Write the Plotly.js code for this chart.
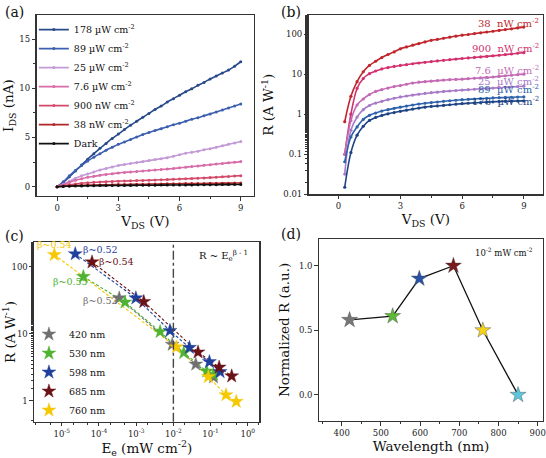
<!DOCTYPE html>
<html><head><meta charset="utf-8">
<script src="https://cdn.plot.ly/plotly-3.0.1.min.js"></script>
<style>html,body{margin:0;padding:0;background:#fff}#chart{width:546px;height:458px}</style>
</head><body><div id="chart"></div><script>
// ---------- Panel (a): I_DS vs V_DS ----------
const vA = [0,0.3,0.6,0.9,1.2,1.5,1.8,2.1,2.4,2.7,3.0,3.3,3.6,3.9,4.2,4.5,4.8,5.1,5.4,5.7,6.0,6.3,6.6,6.9,7.2,7.5,7.8,8.1,8.4,8.7,9.0];
const namesA = ['178 µW cm<sup>-2</sup>','89 µW cm<sup>-2</sup>','25 µW cm<sup>-2</sup>','7.6 µW cm<sup>-2</sup>','900 nW cm<sup>-2</sup>','38 nW cm<sup>-2</sup>','Dark'];
const iA178 = [0,0.45,1.0,1.6,2.2,2.8,3.35,3.9,4.4,4.9,5.35,5.8,6.25,6.65,7.05,7.45,7.85,8.2,8.6,8.95,9.3,9.65,9.95,10.3,10.6,10.95,11.25,11.55,11.85,12.25,12.7];
const iA89  = [0,0.5,1.1,1.65,2.15,2.6,3.0,3.35,3.7,4.0,4.3,4.55,4.8,5.05,5.3,5.5,5.7,5.9,6.1,6.3,6.45,6.65,6.85,7.0,7.2,7.4,7.6,7.8,8.0,8.2,8.4];
const iA25  = [0,0.25,0.55,0.85,1.1,1.3,1.5,1.7,1.85,2.0,2.15,2.25,2.35,2.45,2.55,2.65,2.75,2.85,2.95,3.1,3.25,3.4,3.5,3.6,3.75,3.85,4.0,4.15,4.3,4.45,4.6];
const iA7_6 = [0,0.2,0.45,0.65,0.8,0.95,1.05,1.15,1.25,1.32,1.4,1.45,1.5,1.55,1.6,1.65,1.7,1.75,1.8,1.85,1.92,1.98,2.05,2.1,2.17,2.23,2.3,2.36,2.42,2.48,2.55];
const iA900 = [0,0.1,0.2,0.28,0.35,0.4,0.44,0.48,0.51,0.53,0.56,0.58,0.6,0.62,0.64,0.66,0.68,0.7,0.72,0.75,0.78,0.8,0.83,0.86,0.89,0.92,0.96,1.0,1.04,1.08,1.12];
const iA38  = [0,0.05,0.09,0.12,0.14,0.16,0.17,0.18,0.19,0.2,0.21,0.22,0.23,0.24,0.25,0.26,0.27,0.28,0.29,0.3,0.3,0.31,0.32,0.33,0.33,0.34,0.35,0.36,0.36,0.37,0.38];
const iADark= [0,0.03,0.05,0.07,0.08,0.09,0.1,0.11,0.11,0.12,0.12,0.13,0.13,0.14,0.14,0.15,0.15,0.16,0.16,0.17,0.17,0.18,0.18,0.19,0.19,0.2,0.2,0.21,0.21,0.22,0.22];
const colorsA = ['#284a8a','#3d5fb0','#c39ad6','#d86ba8','#d44a6a','#b0282a','#111111'];

// ---------- Panel (b): R vs V_DS ----------
const vB = [0.3,0.6,0.9,1.2,1.5,1.8,2.1,2.4,2.7,3.0,3.3,3.6,3.9,4.2,4.5,4.8,5.1,5.4,5.7,6.0,6.3,6.6,6.9,7.2,7.5,7.8,8.1,8.4,8.7,9.0];
const rB38  = [0.65,2.8,6.5,11.5,16.5,21,26,31,36,43,48,53,58,64,70,74,79,84,89,94,98,103,108,113,118,124,130,136,143,150];
const rB900 = [0.1,1.0,4.4,7.8,10.3,12,13.5,14.6,15.6,16.5,17.3,18.2,19,19.8,20.6,21.4,22.2,23,23.8,24.6,25.4,26.2,27,27.8,28.7,29.7,30.8,32,33.3,34.5];
const rB7_6 = [0.1,0.7,1.7,2.4,3.1,3.7,4.1,4.5,4.9,5.2,5.6,6.0,6.3,6.5,6.7,6.9,7.1,7.3,7.4,7.5,7.7,7.9,8.1,8.3,8.5,8.8,9.1,9.4,9.7,10];
const rB25  = [0.032,0.4,0.85,1.3,1.65,1.9,2.1,2.3,2.5,2.7,2.85,3.0,3.15,3.3,3.45,3.55,3.7,3.8,3.9,4.0,4.1,4.2,4.3,4.4,4.5,4.6,4.7,4.8,4.9,5.0];
const rB89  = [0.065,0.27,0.48,0.74,0.94,1.07,1.2,1.3,1.4,1.5,1.6,1.7,1.8,1.88,1.95,2.02,2.1,2.17,2.23,2.3,2.35,2.4,2.45,2.5,2.55,2.58,2.62,2.65,2.68,2.7];
const rB178 = [0.015,0.11,0.3,0.5,0.7,0.83,0.93,1.02,1.1,1.18,1.26,1.34,1.42,1.5,1.56,1.61,1.66,1.72,1.78,1.84,1.88,1.92,1.96,2.0,2.04,2.07,2.1,2.12,2.14,2.15];
const labelsB = ['38&nbsp;&nbsp;nW cm<sup>-2</sup>','900&nbsp;&nbsp;nW cm<sup>-2</sup>','7.6&nbsp;&nbsp;µW cm<sup>-2</sup>','25&nbsp;&nbsp;µW cm<sup>-2</sup>','89&nbsp;&nbsp;µW cm<sup>-2</sup>','178&nbsp;&nbsp;µW cm<sup>-2</sup>'];
const colorsB = ['#c0262c','#d2306e','#c46ab4','#a77bc8','#2e62ab','#1e4385'];

// ---------- Panel (c): R vs E_e ----------
const namesC = ['420 nm','530 nm','598 nm','685 nm','760 nm'];
const eC420 = [3.5e-4,9.3e-3,4.0e-2,1.2e-1];
const rC420 = [34,6.9,3.5,2.25];
const eC530 = [3.8e-5,5.0e-4,4.4e-3,1.9e-2,7.9e-2,1.2e-1];
const rC530 = [71,29.5,10.7,5.2,2.75,2.45];
const eC598 = [2.3e-5,9.8e-4,8.1e-3,2.7e-2,9.3e-2,1.8e-1];
const rC598 = [155,34,11.1,6.2,3.8,2.7];
const eC685 = [6.5e-5,1.6e-3,4.6e-2,1.7e-1,3.7e-1];
const rC685 = [117,30,5.3,3.15,2.33];
const eC760 = [6.3e-6,1.2e-2,8.7e-2,2.6e-1,4.9e-1];
const rC760 = [151,6.3,2.28,1.22,0.97];
const colorsC = ['#707070','#4fb233','#1f3f9c','#6a1217','#f6c800'];
const betaText = ['β~0.52','β~0.55','β~0.52','β~0.54','β~0.54'];
const xTickValsC = [1e-5,1e-4,1e-3,1e-2,1e-1,1];
const xTickTextC = ['10<sup>-5</sup>','10<sup>-4</sup>','10<sup>-3</sup>','10<sup>-2</sup>','10<sup>-1</sup>','10<sup>0</sup>'];
const eRef = 1e-2;

// ---------- Panel (d): normalized R vs wavelength ----------
const wlD = [420,530,598,685,760,850];
const nrD = [0.58,0.61,0.90,1.00,0.50,0.00];
const colorsD = ['#777777','#5cb835','#2a52a3','#7a1a1a','#f5d21c','#5cc6dc'];

const FONT = 'DejaVu Serif';
const tickFont = {family: FONT, size: 8.5, color: '#222'};
const titleFont = {family: FONT, size: 13.5, color: '#111'};

const traces = [];
const seriesA = [iA178, iA89, iA25, iA7_6, iA900, iA38, iADark];
seriesA.forEach((ys, k) => traces.push({
  x: vA, y: ys, xaxis: 'x', yaxis: 'y', name: namesA[k], legend: 'legend',
  type: 'scatter', mode: 'lines+markers',
  line: {color: colorsA[k], width: 1.6, shape: 'spline'},
  marker: {color: colorsA[k], size: 3}
}));

const seriesB = [rB38, rB900, rB7_6, rB25, rB89, rB178];
seriesB.forEach((ys, k) => traces.push({
  x: vB, y: ys, xaxis: 'x2', yaxis: 'y2', showlegend: false,
  type: 'scatter', mode: 'lines+markers',
  line: {color: colorsB[k], width: 1.6, shape: 'spline'},
  marker: {color: colorsB[k], size: 3.2}
}));

const eC = [eC420, eC530, eC598, eC685, eC760];
const rC = [rC420, rC530, rC598, rC685, rC760];
eC.forEach((xs, k) => traces.push({
  x: xs, y: rC[k], xaxis: 'x3', yaxis: 'y3', showlegend: false,
  type: 'scatter', mode: 'lines', line: {color: colorsC[k], width: 1.1, dash: '3px,2px'}
}));
eC.forEach((xs, k) => traces.push({
  x: xs, y: rC[k], xaxis: 'x3', yaxis: 'y3', name: namesC[k], legend: 'legend2',
  type: 'scatter', mode: 'markers',
  marker: {symbol: 'star', size: 10.5, color: colorsC[k], line: {color: colorsC[k], width: 0.4}}
}));

traces.push({
  x: wlD, y: nrD, xaxis: 'x4', yaxis: 'y4', showlegend: false,
  type: 'scatter', mode: 'lines+markers',
  line: {color: '#111', width: 1.3},
  marker: {symbol: 'star', size: 12, color: colorsD, line: {color: '#444', width: 0.4}}
});

function axis(extra) {
  return Object.assign({
    showline: true, mirror: true, linecolor: '#333', linewidth: 1.3,
    ticks: 'outside', ticklen: 3.5, tickwidth: 1, tickcolor: '#333',
    showgrid: false, zeroline: false, tickfont: tickFont,
    automargin: false
  }, extra);
}

const layout = {
  width: 546, height: 458,
  margin: {l: 0, r: 0, t: 0, b: 0},
  paper_bgcolor: '#fff', plot_bgcolor: '#fff',
  font: {family: FONT, color: '#111'},
  xaxis: axis({domain: [0.0672, 0.4652], anchor: 'y', range: [-1.0, 9.65], dtick: 3, tick0: 0,
    minor: {dtick: 1.5, ticks: 'outside', ticklen: 2, tickcolor: '#333'},
    title: {text: 'V<sub>DS</sub> (V)', font: titleFont, standoff: 2}}),
  yaxis: axis({domain: [0.572, 0.967], anchor: 'x', range: [-0.95, 17.44], dtick: 5, tick0: 0,
    minor: {dtick: 2.5, ticks: 'outside', ticklen: 2, tickcolor: '#333'},
    title: {text: 'I<sub>DS</sub> (nA)', font: titleFont, standoff: 6}}),
  xaxis2: axis({domain: [0.5654, 0.9945], anchor: 'y2', range: [-1.45, 9.93], dtick: 3, tick0: 0,
    minor: {dtick: 1.5, ticks: 'outside', ticklen: 2, tickcolor: '#333'},
    title: {text: 'V<sub>DS</sub> (V)', font: titleFont, standoff: 0}}),
  yaxis2: axis({domain: [0.5758, 0.967], anchor: 'x2', type: 'log', range: [-2, 2.475],
    tickvals: [0.01, 0.1, 1, 10, 100], ticktext: ['0.01','0.1','1','10','100'],
    minor: {ticks: 'outside', ticklen: 2, tickcolor: '#333'},
    title: {text: 'R (A W<sup>-1</sup>)', font: titleFont, standoff: 6}}),
  xaxis3: axis({domain: [0.0628, 0.4749], anchor: 'y3', type: 'log', range: [-5.74, 0.31],
    tickvals: xTickValsC, ticktext: xTickTextC,
    minor: {ticks: 'outside', ticklen: 2, tickcolor: '#333'},
    title: {text: 'E<sub>e</sub> (mW cm<sup>-2</sup>)', font: titleFont, standoff: 0}}),
  yaxis3: axis({domain: [0.0793, 0.471], anchor: 'x3', type: 'log', range: [-0.313, 2.364],
    tickvals: [1, 10, 100], ticktext: ['1','10','100'],
    minor: {ticks: 'outside', ticklen: 2, tickcolor: '#333'},
    title: {text: 'R (A W<sup>-1</sup>)', font: titleFont, standoff: 6}}),
  xaxis4: axis({domain: [0.5842, 0.9945], anchor: 'y4', range: [342, 913.5], dtick: 100, tick0: 0,
    minor: {dtick: 50, ticks: 'outside', ticklen: 2, tickcolor: '#333'},
    title: {text: 'Wavelength (nm)', font: titleFont, standoff: 4}}),
  yaxis4: axis({domain: [0.0814, 0.4782], anchor: 'x4', range: [-0.2, 1.207], dtick: 0.5, tick0: 0,
    tickformat: '.1f',
    title: {text: 'Normalized R (a.u.)', font: titleFont, standoff: 6}}),
  legend: {x: 0.062, y: 0.967, xanchor: 'left', yanchor: 'top', bgcolor: 'rgba(0,0,0,0)',
    font: {family: FONT, size: 9.5, color: '#111'}, tracegroupgap: 0},
  legend2: {x: 0.053, y: 0.302, xanchor: 'left', yanchor: 'top', bgcolor: 'rgba(0,0,0,0)',
    font: {family: FONT, size: 9.5, color: '#111'}},
  shapes: [{type: 'line', xref: 'x3', yref: 'y3 domain', x0: eRef, x1: eRef, y0: 0, y1: 1,
    line: {color: '#444', width: 1.4, dash: 'dashdot'}}],
  annotations: []
};

const A = layout.annotations;
// panel letters
[['(a)',0.026,0.974],['(b)',0.533,0.974],['(c)',0.026,0.485],['(d)',0.533,0.489]].forEach(p =>
  A.push({text: p[0], x: p[1], y: p[2], xref: 'paper', yref: 'paper', showarrow: false,
    xanchor: 'center', yanchor: 'middle', font: {family: FONT, size: 14, color: '#111'}}));
// panel (b) curve labels
const labelYB = [0.955, 0.815, 0.693, 0.635, 0.585, 0.522];
labelsB.forEach((t, k) => A.push({text: t, xref: 'x2 domain', yref: 'y2 domain', x: 0.99, y: labelYB[k],
  xanchor: 'right', yanchor: 'middle', showarrow: false,
  font: {family: FONT, size: 10, color: colorsB[k]}}));
// panel (c) beta labels: order 420,530,598,685,760
const betaPos = [[0.206,0.674],[0.073,0.78],[0.206,0.961],[0.28,0.892],[0.005,0.985]];
betaText.forEach((t, k) => A.push({text: t, xref: 'x3 domain', yref: 'y3 domain',
  x: betaPos[k][0], y: betaPos[k][1], xanchor: 'left', yanchor: 'middle', showarrow: false,
  font: {family: FONT, size: 9.5, color: colorsC[k]}}));
A.push({text: 'R ~ E<sub>e</sub><sup>β - 1</sup>', xref: 'x3 domain', yref: 'y3 domain', x: 0.96, y: 0.925,
  xanchor: 'right', yanchor: 'middle', showarrow: false, font: {family: FONT, size: 10, color: '#111'}});
// panel (d) note
A.push({text: '10<sup>-2</sup> mW cm<sup>-2</sup>', xref: 'x4 domain', yref: 'y4 domain', x: 0.963, y: 0.927,
  xanchor: 'right', yanchor: 'middle', showarrow: false, font: {family: FONT, size: 8.5, color: '#111'}});

Plotly.newPlot('chart', traces, layout, {displayModeBar: false, staticPlot: true});
</script></body></html>
